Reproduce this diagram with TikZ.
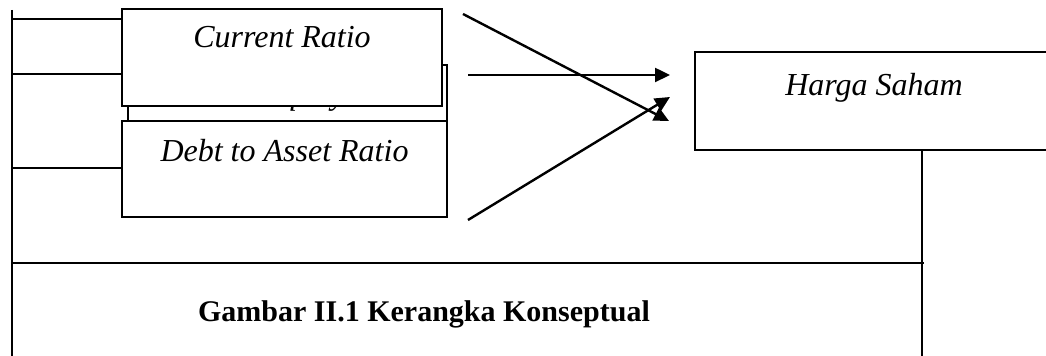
\documentclass[tikz,border=0pt]{standalone}
\usepackage{fontspec}
\setmainfont{Liberation Serif}
\usetikzlibrary{arrows.meta}
\begin{document}
\begin{tikzpicture}[x=0.5pt,y=-0.5pt, line width=1.2pt,
  box/.style={draw, fill=white, rectangle, inner sep=0pt, outer sep=0pt, anchor=north west},
  lbl/.style={font=\fontsize{16}{19}\selectfont\itshape, anchor=base, inner sep=0pt},
  captiontext/.style={font=\fontsize{15}{18}\selectfont\bfseries, anchor=base, inner sep=0pt},
  arr/.style={-{Triangle[length=7.5pt,width=7pt]}},
  link/.style={line width=1.2pt}]
\useasboundingbox (0,0) rectangle (1046,356);

% left trunk
\coordinate (ttop) at (12,10);
\coordinate (tbot) at (12,356);
\draw[link] (ttop) -- (tbot);

% box partly hidden behind the two others
\node[box, minimum width=159.5pt, minimum height=28pt] (der) at (128,65) {};
\node[lbl] (dertext) at (291,105) {Debt to Equity Ratio};

% branches from the trunk (drawn before the front boxes)
\coordinate (b1) at (12,19);
\coordinate (b2) at (12,74);
\coordinate (b3) at (12,168);
\draw[link] (b2) -- (b2 -| der.west);

% front boxes
\node[box, minimum width=160pt, minimum height=48.5pt] (cr) at (122,9) {};
\node[lbl] (crtext) at (282,48) {Current Ratio};
\node[box, minimum width=162.5pt, minimum height=48pt] (dar) at (122,121) {};
\node[lbl] (dartext) at (284.5,162) {Debt to Asset Ratio};

\draw[link] (b1) -- (b1 -| cr.west);
\draw[link] (b3) -- (b3 -| dar.west);

% dependent variable
\node[box, minimum width=179pt, minimum height=49pt] (hs) at (695,52) {};
\node[lbl] (hstext) at (874,96) {Harga Saham};

% arrows towards the dependent variable
\coordinate (a1s) at (463,14);  \coordinate (a1e) at (669,121);
\coordinate (a2s) at (468,75);  \coordinate (a2e) at (670,75);
\coordinate (a3s) at (468,220); \coordinate (a3e) at (670,97);
\draw[arr] (a1s) -- (a1e);
\draw[arr] (a2s) -- (a2e);
\draw[arr] (a3s) -- (a3e);

% frame lines below
\coordinate (rb) at (922,356);
\draw[link] (hs.south -| rb) -- (rb);
\coordinate (hl) at (12,263);
\draw[link] (hl) -- ([xshift=1pt]hl -| rb);

\node[captiontext] (caption) at (424,322) {Gambar II.1 Kerangka Konseptual};
\end{tikzpicture}
\end{document}
